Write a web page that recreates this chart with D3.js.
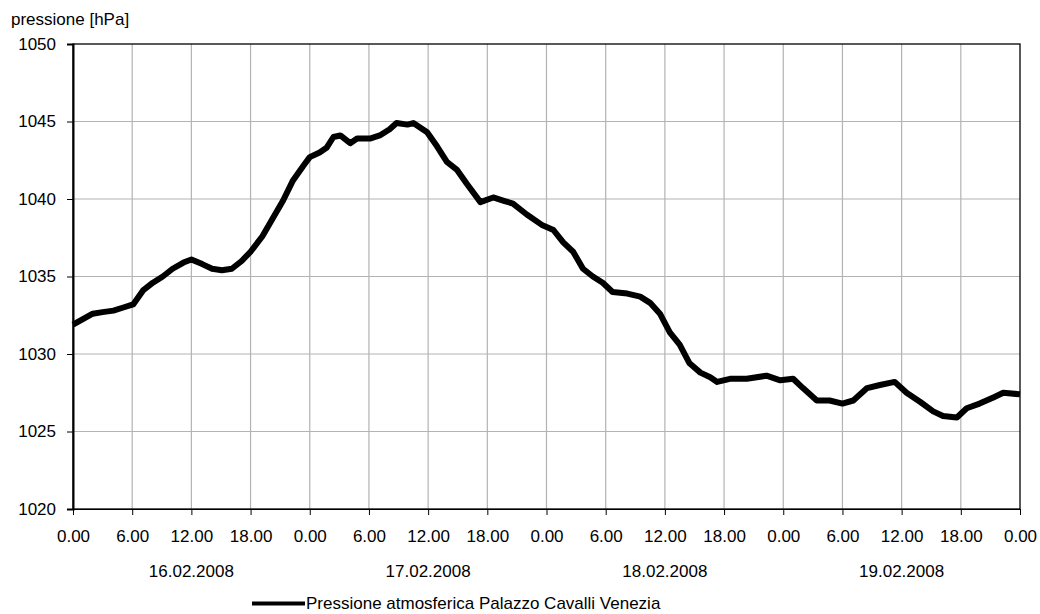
<!DOCTYPE html>
<head>
<meta charset="utf-8">
<title>Pressione atmosferica</title>
<script src="https://cdn.jsdelivr.net/npm/d3@7/dist/d3.min.js"></script>
<style>
  body { margin: 0; background: #fff; }
  text { font-family: "Liberation Sans", Arial, sans-serif; fill: #000; }
</style>
</head>
<body>
<svg width="1040" height="614"></svg>
<script>
// hours since 16.02.2008 0.00
var hours = [0, 2, 3, 4.1, 5.1, 6.1, 7.1, 8.1, 9.1, 10.1, 11.2, 12, 13.1, 14.1, 15.1, 16.1, 17.1, 18, 19.2,
  20.3, 21.3, 22.3, 23.3, 24, 25, 25.7, 26.4, 27.1, 28.1, 28.8, 30.1, 31.1, 32.1, 32.8, 33.9, 34.5, 35.9,
  36.9, 37.9, 38.9, 39.9, 41.3, 42.6, 43.6, 44.6, 46, 47.6, 48.7, 49.7, 50.7, 51.7, 52.7, 53.7, 54.7,
  56.2, 57.5, 58.5, 59.5, 60.5, 61.5, 62.5, 63.6, 64.6, 65.3, 66.6, 68.3, 70.3, 71.7, 73, 74, 75.4,
  76.7, 78, 79.1, 80.5, 81.8, 83.3, 84.5, 85.9, 87.2, 88.2, 89.6, 90.6, 91.9, 93.3, 94.3, 96]
var pressure = [1031.9, 1032.6, 1032.7, 1032.8, 1033.0, 1033.2, 1034.1, 1034.6, 1035.0, 1035.5, 1035.9, 1036.1, 1035.8, 1035.5, 1035.4, 1035.5, 1036.0, 1036.6, 1037.6,
  1038.8, 1039.9, 1041.2, 1042.1, 1042.7, 1043.0, 1043.3, 1044.0, 1044.1, 1043.6, 1043.9, 1043.9, 1044.1, 1044.5, 1044.9, 1044.8, 1044.9, 1044.3,
  1043.4, 1042.4, 1041.9, 1041.0, 1039.8, 1040.1, 1039.9, 1039.7, 1039.0, 1038.3, 1038.0, 1037.2, 1036.6, 1035.5, 1035.0, 1034.6, 1034.0,
  1033.9, 1033.7, 1033.3, 1032.6, 1031.4, 1030.6, 1029.4, 1028.8, 1028.5, 1028.2, 1028.4, 1028.4, 1028.6, 1028.3, 1028.4, 1027.8, 1027.0,
  1027.0, 1026.8, 1027.0, 1027.8, 1028.0, 1028.2, 1027.5, 1026.9, 1026.3, 1026.0, 1025.9, 1026.5, 1026.8, 1027.2, 1027.5, 1027.4]

var yTicks = [1020, 1025, 1030, 1035, 1040, 1045, 1050]
var xTickHours = d3.range(0, 97, 6)
var xTickLabels = ["0.00", "6.00", "12.00", "18.00", "0.00", "6.00", "12.00", "18.00", "0.00",
  "6.00", "12.00", "18.00", "0.00", "6.00", "12.00", "18.00", "0.00"]
var days = ["16.02.2008", "17.02.2008", "18.02.2008", "19.02.2008"]
var seriesName = "Pressione atmosferica Palazzo Cavalli Venezia"

var plot = { left: 73, right: 1020, top: 44, bottom: 509 }
var fs = '17px'

var svg = d3.select('svg')
var x = d3.scaleLinear().domain([0, 96]).range([plot.left, plot.right])
var y = d3.scaleLinear().domain([1020, 1050]).range([plot.bottom, plot.top])

// grid
svg.append('g').selectAll('line').data(xTickHours.slice(1, -1)).enter().append('line')
  .attr('x1', d => x(d)).attr('x2', d => x(d)).attr('y1', plot.top).attr('y2', plot.bottom)
  .attr('stroke', '#b3b3b3').attr('stroke-width', 1.2)
svg.append('g').selectAll('line').data(yTicks.slice(1, -1)).enter().append('line')
  .attr('x1', plot.left).attr('x2', plot.right).attr('y1', d => y(d)).attr('y2', d => y(d))
  .attr('stroke', '#b3b3b3').attr('stroke-width', 1.2)

// frame
svg.append('rect').attr('x', plot.left).attr('y', plot.top)
  .attr('width', plot.right - plot.left).attr('height', plot.bottom - plot.top)
  .attr('fill', 'none').attr('stroke', '#000').attr('stroke-width', 1.3)

// axes
var yAxis = d3.axisLeft(y).tickValues(yTicks).tickSize(6).tickPadding(11).tickFormat(d3.format('d'))
svg.append('g').attr('transform', 'translate(' + plot.left + ',0)').call(yAxis)
  .call(g => g.select('.domain').attr('stroke-width', 2))
var xAxis = d3.axisBottom(x).tickValues(xTickHours).tickSize(6).tickPadding(15)
  .tickFormat((d, i) => xTickLabels[i])
svg.append('g').attr('transform', 'translate(0,' + plot.bottom + ')').call(xAxis)
svg.selectAll('.tick text').style('font-size', fs).style('font-family', '"Liberation Sans", Arial, sans-serif')
svg.selectAll('.tick line').attr('stroke', '#000')

// day labels
svg.selectAll('.day').data(days).enter().append('text').attr('class', 'day')
  .attr('x', (d, i) => x(i * 24 + 12)).attr('y', 577)
  .attr('text-anchor', 'middle').style('font-size', fs).text(d => d)

svg.append('text').attr('x', 11).attr('y', 25).style('font-size', fs).text('pressione [hPa]')

// series
var line = d3.line().x(d => x(d[0])).y(d => y(d[1]))
svg.append('path').datum(d3.zip(hours, pressure)).attr('d', line)
  .attr('fill', 'none').attr('stroke', '#000').attr('stroke-width', 6)
  .attr('stroke-linejoin', 'round').attr('stroke-linecap', 'butt')

// legend
svg.append('line').attr('x1', 252).attr('x2', 305).attr('y1', 603.5).attr('y2', 603.5)
  .attr('stroke', '#000').attr('stroke-width', 4)
svg.append('text').attr('x', 306).attr('y', 609).style('font-size', fs).text(seriesName)
</script>
</body>
